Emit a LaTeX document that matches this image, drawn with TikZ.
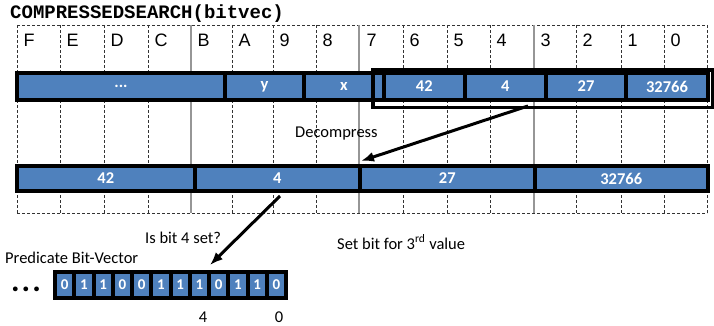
\documentclass[tikz,border=0pt]{standalone}
\usepackage{fontspec}
\setmainfont{Carlito}
\newfontfamily\arialfont{Liberation Sans}
\newfontfamily\courierfont{Liberation Mono}
\usetikzlibrary{arrows.meta}
\definecolor{cSeg}{RGB}{79,129,189}
\definecolor{cRule}{RGB}{150,150,150}
\tikzset{
  gridline/.style={black!80,line width=0.7pt,dash pattern=on 3pt off 2pt},
  quadline/.style={cRule,line width=2pt},
  collbl/.style={anchor=base west,inner sep=0pt,font=\arialfont\fontsize{18}{21}\selectfont},
  seg/.style={draw=black,fill=cSeg,line width=4pt,inner sep=0pt,text=white,
    font=\fontsize{16.5}{19}\selectfont\bfseries},
  bitcell/.style={seg,minimum width=19.25pt,minimum height=26pt,font=\fontsize{15}{18}\selectfont\bfseries},
  note/.style={anchor=base west,inner sep=0pt,font=\fontsize{16.5}{19}\selectfont},
  arrowline/.style={line width=3pt,-{Latex[length=13pt,width=10pt]}}
}

\begin{document}
\begin{tikzpicture}[x=1pt,y=-1pt]
\useasboundingbox (0,0) rectangle (714,326);
\node[anchor=base west,inner sep=0pt,font=\courierfont\bfseries\fontsize{19}{22}\selectfont] (title) at (10,19) {COMPRESSEDSEARCH(bitvec)};
\draw[gridline] (17,25) -- (707,25);
\draw[gridline] (17,213) -- (707,213);
\draw[gridline] (17,25) -- (17,213);
\draw[gridline] (60,25) -- (60,213);
\draw[gridline] (104,25) -- (104,213);
\draw[gridline] (148,25) -- (148,213);
\draw[quadline] (191,25) -- (191,213);
\draw[gridline] (232,25) -- (232,213);
\draw[gridline] (273,25) -- (273,213);
\draw[gridline] (316,25) -- (316,213);
\draw[quadline] (359,25) -- (359,213);
\draw[gridline] (403,25) -- (403,213);
\draw[gridline] (447,25) -- (447,213);
\draw[gridline] (490,25) -- (490,213);
\draw[quadline] (534,25) -- (534,213);
\draw[gridline] (576,25) -- (576,213);
\draw[gridline] (621,25) -- (621,213);
\draw[gridline] (664,25) -- (664,213);
\draw[gridline] (707,25) -- (707,213);
\node[collbl] (colF) at (23.5,47) {F};
\node[collbl] (colE) at (66.5,47) {E};
\node[collbl] (colD) at (110.5,47) {D};
\node[collbl] (colC) at (154.5,47) {C};
\node[collbl] (colB) at (197.5,47) {B};
\node[collbl] (colA) at (238.5,47) {A};
\node[collbl] (col9) at (279.5,47) {9};
\node[collbl] (col8) at (322.5,47) {8};
\node[collbl] (col7) at (366.5,47) {7};
\node[collbl] (col6) at (409.5,47) {6};
\node[collbl] (col5) at (453.5,47) {5};
\node[collbl] (col4) at (496.5,47) {4};
\node[collbl] (col3) at (540.5,47) {3};
\node[collbl] (col2) at (582.5,47) {2};
\node[collbl] (col1) at (627.5,47) {1};
\node[collbl] (col0) at (670.5,47) {0};
\node[seg,minimum width=208pt,minimum height=27pt] (tdots) at (121,86.5) {...};
\node[seg,minimum width=79pt,minimum height=27pt] (ty) at (264.5,86.5) {y};
\node[seg,minimum width=80pt,minimum height=27pt] (tx) at (344,86.5) {x};
\node[seg,minimum width=80.5pt,minimum height=27pt] (t42) at (424.25,86.5) {42};
\node[seg,minimum width=81.5pt,minimum height=27pt] (t4) at (505.25,86.5) {4};
\node[seg,minimum width=80pt,minimum height=27pt] (t27) at (586,86.5) {27};
\node[seg,minimum width=82pt,minimum height=27pt] (t32766) at (667,86.5) {32766};
\node[draw=black,line width=3.3pt,inner sep=0pt,minimum width=339.5pt,minimum height=37.5pt] (window) at (542.75,88.75) {};
\node[seg,minimum width=177.5pt,minimum height=25pt] (b42) at (105.75,178.5) {42};
\node[seg,minimum width=165.5pt,minimum height=25pt] (b4) at (277.25,178.5) {4};
\node[seg,minimum width=174.5pt,minimum height=25pt] (b27) at (447.25,178.5) {27};
\node[seg,minimum width=173.5pt,minimum height=25pt] (b32766) at (621.25,178.5) {32766};
\node[note] (decomp) at (295,137) {Decompress};
\coordinate (decFrom) at (528,106);
\coordinate (decTo) at (361,161);
\draw[arrowline] (decFrom) -- (decTo);
\node[note] (isbit) at (145,243) {Is bit 4 set?};
\node[note] (setbit) at (337,249) {Set bit for 3\textsuperscript{rd} value};
\node[note] (pbv) at (5,263) {Predicate Bit-Vector};
\node[inner sep=0pt,font=\fontsize{32}{34}\selectfont\bfseries] (more) at (26,289.5) {.\hspace{2pt}.\hspace{2pt}.};
\node[bitcell] (bit11) at (64.625,285) {0};
\node[bitcell] (bit10) at (83.875,285) {1};
\node[bitcell] (bit9) at (103.125,285) {1};
\node[bitcell] (bit8) at (122.375,285) {0};
\node[bitcell] (bit7) at (141.625,285) {0};
\node[bitcell] (bit6) at (160.875,285) {1};
\node[bitcell] (bit5) at (180.125,285) {1};
\node[bitcell] (bit4) at (199.375,285) {1};
\node[bitcell] (bit3) at (218.625,285) {0};
\node[bitcell] (bit2) at (237.875,285) {1};
\node[bitcell] (bit1) at (257.125,285) {1};
\node[bitcell] (bit0) at (276.375,285) {0};
\coordinate (probeFrom) at (280,196);
\coordinate (probeTo) at (210,265);
\draw[arrowline] (probeFrom) -- (probeTo);
\node[anchor=base,inner sep=0pt,font=\fontsize{16.5}{19}\selectfont] (lbl4) at (203,322) {4};
\node[anchor=base,inner sep=0pt,font=\fontsize{16.5}{19}\selectfont] (lbl0) at (279,322) {0};
\end{tikzpicture}
\end{document}
